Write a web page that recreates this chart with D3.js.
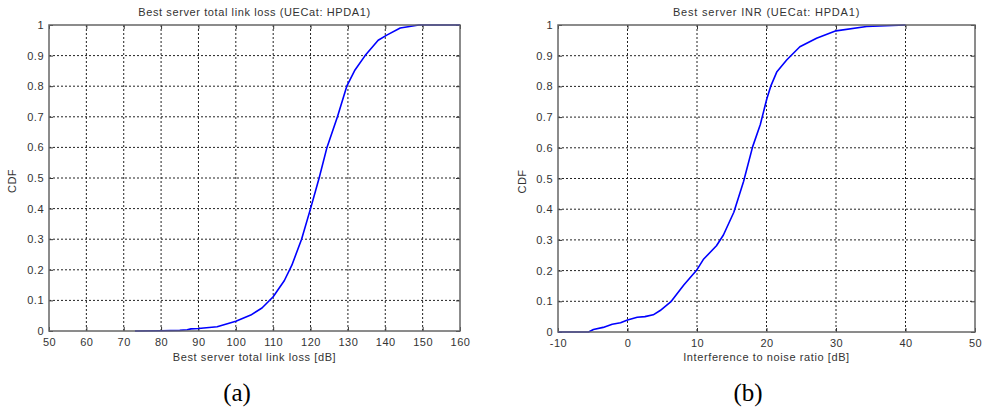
<!DOCTYPE html>
<html>
<head>
<meta charset="utf-8">
<script src="https://cdn.jsdelivr.net/npm/d3@7"></script>
<style>
  html, body { margin: 0; padding: 0; background: #fff; }
  svg { display: block; }
</style>
</head>
<body>
<svg id="chart" width="987" height="408"></svg>
<script>
// ---------- data ----------
const lossX = [73, 80, 85, 87, 88, 90, 95, 100, 104, 107, 110, 113, 115, 117.6, 120, 122.3, 124.4, 127.2, 129.7, 131.9, 134.6, 138.1, 140.4, 144, 149, 160];
const lossCDF = [0, 0.001, 0.002, 0.004, 0.007, 0.008, 0.014, 0.032, 0.052, 0.075, 0.112, 0.165, 0.215, 0.3, 0.4, 0.5, 0.6, 0.7, 0.8, 0.853, 0.9, 0.95, 0.967, 0.99, 1.0, 1.0];

const inrX = [-10, -5.6, -4.9, -3.5, -2.2, -1, 0, 1.4, 2.5, 3.7, 4.7, 6.3, 8.1, 10, 10.9, 12.8, 13.8, 15.3, 16.7, 18, 19.1, 20.05, 20.6, 21.5, 22.9, 24.8, 27.2, 30, 34.4, 40];
const inrCDF = [0, 0, 0.008, 0.015, 0.025, 0.03, 0.039, 0.048, 0.05, 0.056, 0.07, 0.1, 0.153, 0.203, 0.236, 0.281, 0.316, 0.39, 0.49, 0.603, 0.675, 0.76, 0.8, 0.848, 0.886, 0.929, 0.957, 0.981, 0.995, 1.0];

const lossXTicks = [50, 60, 70, 80, 90, 100, 110, 120, 130, 140, 150, 160];
const inrXTicks = [-10, 0, 10, 20, 30, 40, 50];
const yTicks = [0, 0.1, 0.2, 0.3, 0.4, 0.5, 0.6, 0.7, 0.8, 0.9, 1];

const panels = [
  { title: "Best server total link loss (UECat: HPDA1)", xlabel: "Best server total link loss [dB]",
    caption: "(a)", xs: lossX, ys: lossCDF, xDomain: [50, 160], xTicks: lossXTicks,
    left: 49, right: 460, top: 25, bottom: 331, captionX: 237, ylabelX: 12, titleLS: 0.6 },
  { title: "Best server INR (UECat: HPDA1)", xlabel: "Interference to noise ratio [dB]",
    caption: "(b)", xs: inrX, ys: inrCDF, xDomain: [-10, 50], xTicks: inrXTicks,
    left: 558, right: 975, top: 25, bottom: 332, captionX: 748, ylabelX: 522, titleLS: 0.8 }
];

const SANS = "'Liberation Sans', Arial, Helvetica, sans-serif";
const SERIF = "'Liberation Serif', 'Times New Roman', serif";
const svg = d3.select("#chart");

panels.forEach(p => {
  const x = d3.scaleLinear().domain(p.xDomain).range([p.left, p.right]);
  const y = d3.scaleLinear().domain([0, 1]).range([p.bottom, p.top]);
  const g = svg.append("g");
  const w = p.right - p.left, h = p.bottom - p.top;

  // grid
  g.append("g").selectAll("line").data(p.xTicks.slice(1, -1)).join("line")
    .attr("x1", d => x(d)).attr("x2", d => x(d)).attr("y1", p.top).attr("y2", p.bottom)
    .attr("stroke", "#222").attr("stroke-width", 1).attr("stroke-dasharray", "2,2");
  g.append("g").selectAll("line").data(yTicks.slice(1, -1)).join("line")
    .attr("x1", p.left).attr("x2", p.right).attr("y1", d => y(d)).attr("y2", d => y(d))
    .attr("stroke", "#222").attr("stroke-width", 1).attr("stroke-dasharray", "2,2");

  // axes
  g.append("g").attr("transform", `translate(0,${p.bottom})`)
    .call(d3.axisBottom(x).tickValues(p.xTicks).tickSize(-4).tickPadding(7).tickFormat(d => String(d)));
  g.append("g").attr("transform", `translate(${p.left},0)`)
    .call(d3.axisLeft(y).tickValues(yTicks).tickSize(-4).tickPadding(5).tickFormat(d => d === 0 || d === 1 ? String(d) : d3.format(".1f")(d)));
  g.append("g").attr("transform", `translate(0,${p.top})`)
    .call(d3.axisTop(x).tickValues(p.xTicks).tickSize(-4).tickFormat(""));
  g.append("g").attr("transform", `translate(${p.right},0)`)
    .call(d3.axisRight(y).tickValues(yTicks).tickSize(-4).tickFormat(""));
  g.selectAll(".domain").remove();
  g.selectAll(".tick line").attr("stroke", "#333");
  g.selectAll(".tick text").attr("font-size", 11).attr("fill", "#333")
    .style("font-family", SANS).style("letter-spacing", "0.5px");

  // curve
  const line = d3.line().x((d, i) => x(p.xs[i])).y((d, i) => y(p.ys[i]));
  g.append("path").datum(p.ys).attr("d", line)
    .attr("fill", "none").attr("stroke", "#0000ff").attr("stroke-width", 1.6)
    .attr("stroke-linejoin", "round");

  // box
  g.append("rect").attr("x", p.left).attr("y", p.top).attr("width", w).attr("height", h)
    .attr("fill", "none").attr("stroke", "#666").attr("stroke-width", 1.5);

  // labels
  g.append("text").attr("x", (p.left + p.right) / 2).attr("y", 16).attr("text-anchor", "middle")
    .attr("font-size", 11).attr("fill", "#333").style("font-family", SANS)
    .style("letter-spacing", p.titleLS + "px").text(p.title);
  g.append("text").attr("x", (p.left + p.right) / 2).attr("y", 361).attr("text-anchor", "middle")
    .attr("font-size", 11).attr("fill", "#333").style("font-family", SANS)
    .style("letter-spacing", "0.6px").text(p.xlabel);
  g.append("text").attr("transform", `translate(${p.ylabelX + 4},${(p.top + p.bottom) / 2 + 3}) rotate(-90)`)
    .attr("text-anchor", "middle").attr("font-size", 11).attr("fill", "#333")
    .style("font-family", SANS).style("letter-spacing", "0.5px").text("CDF");
  g.append("text").attr("x", p.captionX).attr("y", 401).attr("text-anchor", "middle")
    .style("font-family", SERIF).attr("font-size", 25)
    .attr("fill", "#000").text(p.caption);
});
</script>
</body>
</html>
